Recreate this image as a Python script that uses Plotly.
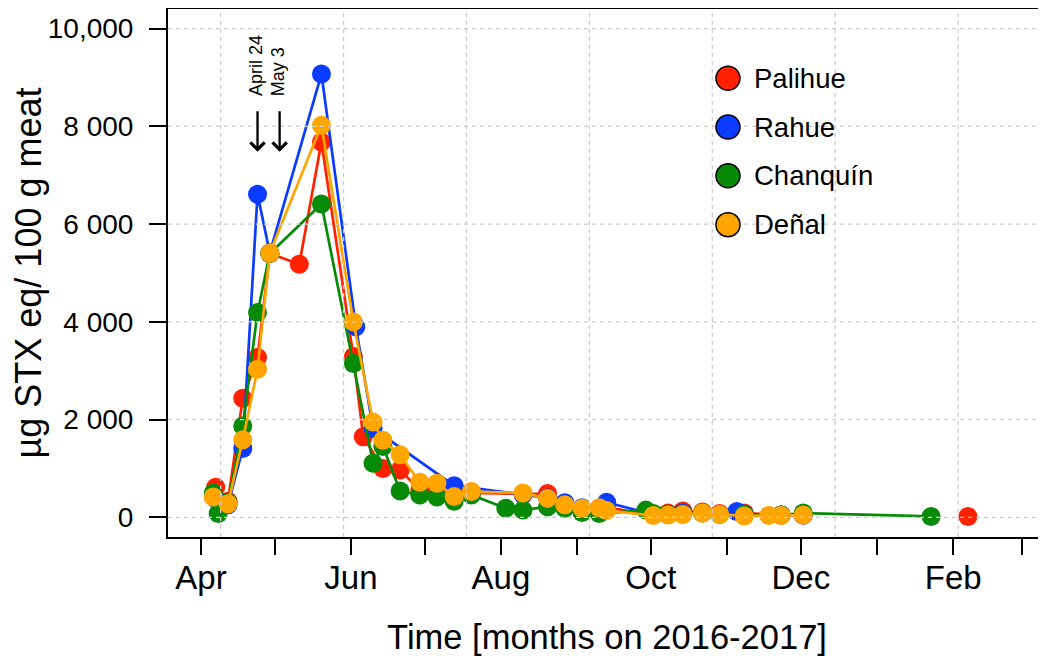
import plotly.graph_objects as go

FONT = "Liberation Sans, Arial, Helvetica, sans-serif"

# ---------------- data ----------------
SERIES_NAMES = ["Palihue", "Rahue", "Chanquín", "Deñal"]
SERIES_COLORS = ["#ff2200", "#0a3cff", "#078a07", "#ffa500"]

palihue_dates = ["2016-04-07", "2016-04-12", "2016-04-18", "2016-04-24", "2016-04-29",
                 "2016-05-11", "2016-05-20", "2016-06-02", "2016-06-06", "2016-06-14",
                 "2016-06-21", "2016-06-29", "2016-07-06", "2016-07-13", "2016-07-20",
                 "2016-08-10", "2016-08-20", "2016-08-27", "2016-09-03", "2016-09-13",
                 "2016-10-02", "2016-10-08", "2016-10-14", "2016-10-22", "2016-10-29",
                 "2016-11-08", "2016-11-23", "2016-12-02", "2017-01-01", "2017-02-07"]
palihue_vals = [620, 330, 2440, 3270, 5400,
                5180, 7680, 3290, 1650, 1000,
                970, 560, 480, 420, 500,
                480, 490, 290, 180, 200,
                60, 90, 130, 110, 80,
                90, 50, 50, None, 20]

rahue_dates = ["2016-04-07", "2016-04-12", "2016-04-18", "2016-04-24", "2016-04-29",
               "2016-05-20", "2016-06-03", "2016-06-10", "2016-07-13", "2016-08-10",
               "2016-08-20", "2016-08-27", "2016-09-03", "2016-09-13", "2016-10-02",
               "2016-10-14", "2016-11-05", "2016-11-08", "2016-11-23", "2016-12-02"]
rahue_vals = [380, 260, 1410, 6610, 5410,
              9070, 3900, 1820, 650, 470,
              400, 300, 200, 310, 60,
              90, 120, 70, 50, 50]

chanquin_dates = ["2016-04-06", "2016-04-08", "2016-04-12", "2016-04-18", "2016-04-24",
                  "2016-04-29", "2016-05-20", "2016-06-02", "2016-06-10", "2016-06-14",
                  "2016-06-21", "2016-06-29", "2016-07-06", "2016-07-13", "2016-07-20",
                  "2016-08-03", "2016-08-10", "2016-08-20", "2016-08-27", "2016-09-03",
                  "2016-09-10", "2016-09-29", "2016-10-02", "2016-10-08", "2016-10-14",
                  "2016-10-22", "2016-10-29", "2016-11-08", "2016-11-23", "2016-12-02",
                  "2017-01-23"]
chanquin_vals = [500, 80, 300, 1870, 4190,
                 5400, 6410, 3150, 1110, 1450,
                 540, 460, 420, 330, 460,
                 190, 150, 220, 190, 100,
                 80, 150, 80, 70, 70,
                 90, 60, 60, 50, 90,
                 20]

denal_dates = ["2016-04-06", "2016-04-12", "2016-04-18", "2016-04-24", "2016-04-29",
               "2016-05-20", "2016-06-02", "2016-06-10", "2016-06-14", "2016-06-21",
               "2016-06-29", "2016-07-06", "2016-07-13", "2016-07-20", "2016-08-10",
               "2016-08-20", "2016-08-27", "2016-09-03", "2016-09-10", "2016-09-13",
               "2016-10-02", "2016-10-08", "2016-10-14", "2016-10-22", "2016-10-29",
               "2016-11-08", "2016-11-18", "2016-11-23", "2016-12-02"]
denal_vals = [420, 280, 1590, 3030, 5410,
              8020, 4000, 1950, 1580, 1280,
              720, 700, 430, 530, 500,
              390, 260, 190, 200, 140,
              40, 50, 60, 90, 60,
              30, 40, 40, 50]

SERIES_DATES = [palihue_dates, rahue_dates, chanquin_dates, denal_dates]
SERIES_VALS = [palihue_vals, rahue_vals, chanquin_vals, denal_vals]

# axes
X_RANGE = ["2016-03-18 14:00", "2017-03-10 18:00"]
Y_RANGE = [-400, 10400]
MONTH_TICKS = ["2016-04-01", "2016-05-01", "2016-06-01", "2016-07-01", "2016-08-01",
               "2016-09-01", "2016-10-01", "2016-11-01", "2016-12-01", "2017-01-01",
               "2017-02-01", "2017-03-01"]
MONTH_LABELS = ["Apr", "", "Jun", "", "Aug", "", "Oct", "", "Dec", "", "Feb", ""]
Y_TICKS = [0, 2000, 4000, 6000, 8000, 10000]
Y_LABELS = ["0", "2 000", "4 000", "6 000", "8 000", "10,000"]
GRID_DATES = ["2016-04-09", "2016-05-29", "2016-07-18", "2016-09-06",
              "2016-10-26", "2016-12-15", "2017-02-03"]

EVENT_DATES = ["2016-04-24", "2016-05-03"]
EVENT_LABELS = ["April 24", "May 3"]

# ---------------- figure ----------------
fig = go.Figure()

for name, color, xs, ys in zip(SERIES_NAMES, SERIES_COLORS, SERIES_DATES, SERIES_VALS):
    fig.add_trace(go.Scatter(
        x=xs, y=ys, mode="lines+markers", name=name,
        line=dict(color=color, width=2.7),
        marker=dict(color=color, size=19, line=dict(width=0)),
        connectgaps=False, showlegend=False, hoverinfo="skip",
    ))

# grid lines drawn above data (as in the reference)
gx, gy = [], []
for d in GRID_DATES:
    gx += [d, d, None]
    gy += [Y_RANGE[0], Y_RANGE[1], None]
for v in Y_TICKS:
    gx += [X_RANGE[0], X_RANGE[1], None]
    gy += [v, v, None]
fig.add_trace(go.Scatter(
    x=gx, y=gy, mode="lines", showlegend=False, hoverinfo="skip",
    line=dict(color="#cccccc", width=1.3, dash="4px,4px"),
))

# custom legend on an overlay axis (0..1 coordinates of the plot area)
leg_x = 0.6378
leg_y0 = 0.8688
leg_step = 0.0924
leg_ys = [leg_y0 - i * leg_step for i in range(len(SERIES_NAMES))]
fig.add_trace(go.Scatter(
    x=[leg_x] * len(SERIES_NAMES), y=leg_ys, mode="markers",
    marker=dict(color=SERIES_COLORS, size=24, line=dict(color="black", width=1.5)),
    xaxis="x2", yaxis="y2", showlegend=False, hoverinfo="skip",
))
for name, yy in zip(SERIES_NAMES, leg_ys):
    fig.add_annotation(
        x=0.665, y=yy, xref="paper", yref="paper", text=name, showarrow=False,
        xanchor="left", yanchor="middle", font=dict(family=FONT, size=27.5, color="black"),
    )

# event arrows and labels
for d, lab in zip(EVENT_DATES, EVENT_LABELS):
    fig.add_annotation(
        x=d, y=7480, xref="x", yref="y", text="", showarrow=True,
        ax=0, ay=-42, arrowhead=4, arrowsize=1.2, arrowwidth=2.3, arrowcolor="black",
    )
    fig.add_annotation(
        x=d, y=8600, xref="x", yref="y", text=lab, showarrow=False, textangle=-90,
        xanchor="center", yanchor="bottom", xshift=-2, borderpad=0,
        font=dict(family=FONT, size=18, color="black"),
    )

# the page body has an 8px margin: size/margins compensate so the plot area
# lands at x 168..1046, y 9..537 of the window
fig.update_layout(
    width=1038, height=648,
    margin=dict(l=160, r=0, t=1, b=119),
    paper_bgcolor="white", plot_bgcolor="white",
    font=dict(family=FONT, color="black"),
    showlegend=False,
    xaxis=dict(
        type="date", range=X_RANGE, tickmode="array",
        tickvals=MONTH_TICKS, ticktext=MONTH_LABELS,
        ticks="outside", ticklen=16, tickwidth=2, tickcolor="black",
        showline=True, linewidth=2, linecolor="black", mirror=True,
        showgrid=False, zeroline=False,
        tickfont=dict(family=FONT, size=33, color="black"),
        ticklabelstandoff=-6,
        title=dict(text="Time [months on 2016-2017]",
                   font=dict(family=FONT, size=34.5, color="black"), standoff=32),
        automargin=False,
    ),
    yaxis=dict(
        range=Y_RANGE, tickmode="array", tickvals=Y_TICKS, ticktext=Y_LABELS,
        ticks="outside", ticklen=17, tickwidth=2, tickcolor="black",
        showline=True, linewidth=2, linecolor="black", mirror=False,
        showgrid=False, zeroline=False,
        tickfont=dict(family=FONT, size=28, color="black"),
        ticklabelstandoff=10,
        title=dict(text="µg STX eq/ 100 g meat",
                   font=dict(family=FONT, size=36, color="black"), standoff=12),
        automargin=False,
    ),
    xaxis2=dict(overlaying="x", range=[0, 1], visible=False, fixedrange=True),
    yaxis2=dict(overlaying="y", range=[0, 1], visible=False, fixedrange=True),
)

fig.write_html("out.html")
